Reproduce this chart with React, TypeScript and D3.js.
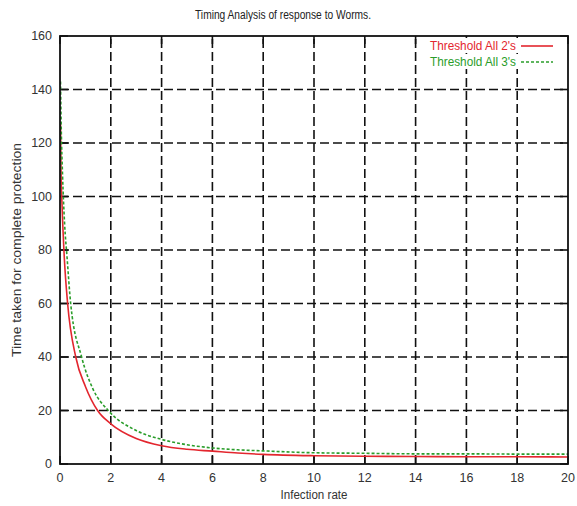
import React, { useEffect, useRef } from "react";
import * as d3 from "d3";

const xTicks = [0, 2, 4, 6, 8, 10, 12, 14, 16, 18, 20];
const yTicks = [0, 20, 40, 60, 80, 100, 120, 140, 160];

const redX = [0.02, 0.04, 0.08, 0.17, 0.3, 0.62, 1.0, 1.48, 2, 3, 4, 5, 6, 7, 8, 10, 12, 14, 16, 18, 20];
const redY = [127, 110, 97, 77, 60, 40, 29, 20, 15, 9.5, 6.8, 5.5, 4.8, 4.1, 3.6, 3.1, 2.9, 2.8, 2.7, 2.7, 2.6];

const greenX = [0.02, 0.05, 0.1, 0.18, 0.28, 0.42, 0.85, 1.3, 1.9, 3, 4, 5, 6, 7, 8, 10, 12, 14, 16, 18, 20];
const greenY = [143, 125, 108, 90, 77, 60, 40, 28, 20, 12.5, 9.2, 7.2, 6, 5.3, 4.9, 4.2, 4, 3.8, 3.8, 3.7, 3.7];

const series = [
  { name: "Threshold All 2's", xs: redX, ys: redY, color: "#e3262e", dash: null },
  { name: "Threshold All 3's", xs: greenX, ys: greenY, color: "#2a9d2a", dash: "3,2" },
];

const W = 577;
const H = 506;
const margin = { left: 60, right: 9, top: 36, bottom: 42 };
const font = "'Liberation Sans', Arial, sans-serif";

const App = () => {
  const svgRef = useRef<SVGSVGElement>(null);

  useEffect(() => {
    const svg = d3.select(svgRef.current);
    svg.selectAll("*").remove();

    const x = d3.scaleLinear().domain([0, 20]).range([margin.left, W - margin.right]);
    const y = d3.scaleLinear().domain([0, 160]).range([H - margin.bottom, margin.top]);
    const [x0, x1] = x.range();
    const [y0, y1] = y.range();

    svg.append("rect").attr("width", W).attr("height", H).attr("fill", "#fff");

    // title (narrow font in original, squeeze it)
    svg.append("text")
      .attr("x", 283).attr("y", 19)
      .attr("text-anchor", "middle")
      .attr("font-family", font).attr("font-size", 12.5)
      .attr("fill", "#222")
      .attr("textLength", 176).attr("lengthAdjust", "spacingAndGlyphs")
      .text("Timing Analysis of response to Worms.");

    // dashed grid
    const grid = svg.append("g")
      .attr("stroke", "#111").attr("stroke-width", 1.6).attr("stroke-dasharray", "9,4");
    xTicks.slice(1, -1).forEach((t) => {
      grid.append("line").attr("x1", x(t)).attr("x2", x(t)).attr("y1", y0).attr("y2", y1);
    });
    yTicks.slice(1, -1).forEach((t) => {
      grid.append("line").attr("y1", y(t)).attr("y2", y(t)).attr("x1", x0).attr("x2", x1);
    });

    // inward ticks on all sides
    const ticks = svg.append("g").attr("stroke", "#111").attr("stroke-width", 1.6);
    xTicks.forEach((t) => {
      ticks.append("line").attr("x1", x(t)).attr("x2", x(t)).attr("y1", y0).attr("y2", y0 - 8);
      ticks.append("line").attr("x1", x(t)).attr("x2", x(t)).attr("y1", y1).attr("y2", y1 + 8);
    });
    yTicks.forEach((t) => {
      ticks.append("line").attr("y1", y(t)).attr("y2", y(t)).attr("x1", x0).attr("x2", x0 + 8);
      ticks.append("line").attr("y1", y(t)).attr("y2", y(t)).attr("x1", x1).attr("x2", x1 - 8);
    });

    // tick labels
    svg.append("g").selectAll("text").data(xTicks).join("text")
      .attr("x", (d) => x(d)).attr("y", y0 + 18)
      .attr("text-anchor", "middle")
      .attr("font-family", font).attr("font-size", 12.5).attr("fill", "#333")
      .text((d) => d);
    svg.append("g").selectAll("text").data(yTicks).join("text")
      .attr("x", x0 - 8).attr("y", (d) => y(d) + 4)
      .attr("text-anchor", "end")
      .attr("font-family", font).attr("font-size", 12.5).attr("fill", "#333")
      .text((d) => d);

    // axis titles
    svg.append("text")
      .attr("x", 314).attr("y", 499)
      .attr("text-anchor", "middle")
      .attr("font-family", font).attr("font-size", 12.5).attr("fill", "#333")
      .attr("textLength", 67).attr("lengthAdjust", "spacingAndGlyphs")
      .text("Infection rate");
    svg.append("text")
      .attr("transform", `translate(21,250) rotate(-90)`)
      .attr("text-anchor", "middle")
      .attr("font-family", font).attr("font-size", 12.5).attr("fill", "#333")
      .attr("textLength", 214).attr("lengthAdjust", "spacingAndGlyphs")
      .text("Time taken for complete protection");

    // curves
    const line = d3.line<[number, number]>()
      .x((d) => x(d[0])).y((d) => y(d[1]))
      .curve(d3.curveMonotoneX);
    const clip = svg.append("clipPath").attr("id", "plotclip");
    clip.append("rect").attr("x", x0).attr("y", y1).attr("width", x1 - x0).attr("height", y0 - y1);
    const plot = svg.append("g").attr("clip-path", "url(#plotclip)");
    series.forEach((s) => {
      const pts = s.xs.map((v, i) => [v, s.ys[i]] as [number, number]);
      plot.append("path")
        .attr("d", line(pts))
        .attr("fill", "none")
        .attr("stroke", s.color)
        .attr("stroke-width", 1.6)
        .attr("stroke-dasharray", s.dash);
    });

    // border
    svg.append("rect")
      .attr("x", x0).attr("y", y1).attr("width", x1 - x0).attr("height", y0 - y1)
      .attr("fill", "none").attr("stroke", "#111").attr("stroke-width", 1.8);

    // legend
    const leg = svg.append("g");
    series.forEach((s, i) => {
      const ly = 46 + i * 16;
      leg.append("rect").attr("x", 425).attr("y", ly - 8).attr("width", 134).attr("height", 15).attr("fill", "#fff");
      leg.append("text")
        .attr("x", 516).attr("y", ly + 4)
        .attr("text-anchor", "end")
        .attr("font-family", font).attr("font-size", 12.5).attr("fill", s.color)
        .attr("textLength", 86).attr("lengthAdjust", "spacingAndGlyphs")
        .text(s.name);
      leg.append("line")
        .attr("x1", 521).attr("x2", 553).attr("y1", ly).attr("y2", ly)
        .attr("stroke", s.color).attr("stroke-width", 1.6)
        .attr("stroke-dasharray", s.dash);
    });
  }, []);

  return (
    <svg
      ref={svgRef}
      width={W}
      height={H}
      style={{ position: "absolute", left: 0, top: 0, display: "block" }}
    />
  );
};

export default App;
